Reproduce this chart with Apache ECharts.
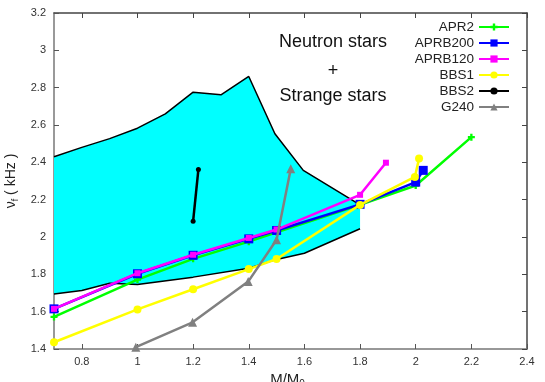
<!DOCTYPE html>
<html><head><meta charset="utf-8">
<script src="https://cdn.jsdelivr.net/npm/echarts@6/dist/echarts.min.js"></script>
<style>html,body{margin:0;padding:0;background:#fff}#c{width:545px;height:382px}</style>
</head><body><div id="c"></div>
<script>
const xTicks = [0.8, 1.0, 1.2, 1.4, 1.6, 1.8, 2.0, 2.2, 2.4];
const yTicks = [1.4, 1.6, 1.8, 2.0, 2.2, 2.4, 2.6, 2.8, 3.0, 3.2];

const apr2X = [0.7, 1.0, 1.2, 1.4, 1.5, 1.8, 2.0, 2.2];
const apr2Y = [1.572, 1.772, 1.883, 1.975, 2.025, 2.172, 2.276, 2.535];
const aprb200X = [0.7, 1.0, 1.2, 1.4, 1.5, 1.8, 2.0, 2.027];
const aprb200Y = [1.615, 1.803, 1.902, 1.99, 2.035, 2.175, 2.294, 2.357];
const aprb120X = [0.7, 1.0, 1.2, 1.4, 1.5, 1.8, 1.893];
const aprb120Y = [1.615, 1.806, 1.905, 1.995, 2.04, 2.226, 2.398];
const bbs1X = [0.7, 1.0, 1.2, 1.4, 1.5, 1.8, 1.997, 2.012];
const bbs1Y = [1.436, 1.612, 1.72, 1.828, 1.882, 2.172, 2.322, 2.42];
const bbs2X = [1.2, 1.219];
const bbs2Y = [2.085, 2.362];
const g240X = [0.994, 1.198, 1.398, 1.5, 1.551];
const g240Y = [1.41, 1.543, 1.761, 1.985, 2.366];

const upperX = [0.7, 0.8, 0.9, 1.0, 1.1, 1.2, 1.3, 1.4, 1.494, 1.596, 1.8];
const upperY = [2.43, 2.48, 2.527, 2.583, 2.66, 2.776, 2.762, 2.86, 2.553, 2.357, 2.172];
const lowerX = [0.7, 0.8, 0.9, 1.0, 1.2, 1.4, 1.5, 1.6, 1.8];
const lowerY = [1.695, 1.713, 1.752, 1.745, 1.785, 1.833, 1.88, 1.913, 2.044];

const names = ['APR2', 'APRB200', 'APRB120', 'BBS1', 'BBS2', 'G240'];
const annot = ['Neutron stars', '+', 'Strange stars'];

function pairs(xs, ys) { return xs.map((x, i) => [x, ys[i]]); }

const chart = echarts.init(document.getElementById('c'), null, {renderer: 'canvas'});
const font = '"Liberation Sans", Arial, sans-serif';

function lineSeries(name, xs, ys, color, symbol, size, z) {
  return {
    name: name, type: 'line', data: pairs(xs, ys), xAxisIndex: 0, yAxisIndex: 0,
    symbol: symbol, symbolSize: size, showSymbol: true,
    lineStyle: {color: color, width: 2.5},
    itemStyle: {color: color, borderWidth: 0},
    z: z, animation: false, clip: false
  };
}

const option = {
  animation: false,
  backgroundColor: '#fff',
  grid: {left: 54, right: 18, top: 13, bottom: 33, containLabel: false, outerBoundsMode: 'none'},
  xAxis: [{
    type: 'value', min: 0.7, max: 2.4, position: 'bottom',
    axisLine: {show: true, lineStyle: {color: '#777', width: 1.5}},
    axisTick: {show: true, inside: true, length: 5, customValues: xTicks, lineStyle: {color: '#555'}},
    axisLabel: {customValues: xTicks, color: '#333', fontSize: 11, fontFamily: font, margin: 7,
      formatter: v => String(+v.toFixed(1))},
    splitLine: {show: false},
    name: '{a|M/M}{b|0}', nameLocation: 'middle', nameGap: 14,
    nameTextStyle: {padding: [0, 6, 0, 0], rich: {
      a: {fontSize: 15, fontFamily: font, color: '#222'},
      b: {fontSize: 10, fontFamily: font, color: '#222', padding: [10, 0, 0, 0]}
    }}
  }, {
    type: 'value', min: 0.7, max: 2.4, position: 'top',
    axisLine: {show: true, onZero: false, lineStyle: {color: '#444', width: 1.5}},
    axisTick: {show: true, inside: true, length: 5, customValues: xTicks, lineStyle: {color: '#444'}},
    axisLabel: {show: false}, splitLine: {show: false}
  }],
  yAxis: [{
    type: 'value', min: 1.4, max: 3.2, interval: 0.2, position: 'left',
    axisLine: {show: true, lineStyle: {color: '#777', width: 1.5}},
    axisTick: {show: true, inside: true, length: 5, lineStyle: {color: '#555'}},
    axisLabel: {color: '#333', fontSize: 11, fontFamily: font, margin: 8,
      formatter: v => String(+v.toFixed(1))},
    splitLine: {show: false},
    name: '{a|ν}{b|f}{a| ( kHz )}', nameLocation: 'middle', nameGap: 34, nameRotate: 90,
    nameTextStyle: {rich: {
      a: {fontSize: 14, fontFamily: font, color: '#222'},
      b: {fontSize: 9, fontFamily: font, color: '#222', padding: [8, 0, 0, 0]}
    }}
  }, {
    type: 'value', min: 1.4, max: 3.2, interval: 0.2, position: 'right',
    axisLine: {show: true, onZero: false, lineStyle: {color: '#444', width: 1.5}},
    axisTick: {show: true, inside: true, length: 5, lineStyle: {color: '#444'}},
    axisLabel: {show: false}, splitLine: {show: false}
  }],
  legend: {
    data: names, orient: 'vertical', right: 30, top: 15, align: 'right',
    itemWidth: 30, itemHeight: 9, itemGap: 2,
    textStyle: {fontSize: 13.5, fontFamily: font, color: '#222', padding: [0, 0, 0, 0], lineHeight: 14},
    selectedMode: false
  },
  graphic: annot.map((t, i) => ({
    type: 'text', x: 333, y: [42, 71, 96][i],
    style: {text: t, fontSize: 18, fontFamily: font, fill: '#111', align: 'center', verticalAlign: 'middle'},
    z: 100
  })),
  series: [
    {
      type: 'custom', name: 'region', xAxisIndex: 0, yAxisIndex: 0, z: 1,
      data: [[0.7, 2.43]], silent: true,
      renderItem: function (params, api) {
        const pts = [];
        for (let i = 0; i < upperX.length; i++) pts.push(api.coord([upperX[i], upperY[i]]));
        for (let i = lowerX.length - 1; i >= 0; i--) pts.push(api.coord([lowerX[i], lowerY[i]]));
        return {type: 'polygon', shape: {points: pts}, style: {fill: '#00ffff', stroke: null}};
      }
    },
    {type: 'line', name: 'upper', data: pairs(upperX, upperY), symbol: 'none',
      lineStyle: {color: '#000', width: 1.5}, z: 2, silent: true},
    {type: 'line', name: 'lower', data: pairs(lowerX, lowerY), symbol: 'none',
      lineStyle: {color: '#000', width: 1.5}, z: 2, silent: true},
    lineSeries('APR2', apr2X, apr2Y, '#00ff00', 'path://M2,0H4V2H6V4H4V6H2V4H0V2H2Z', 7, 3),
    lineSeries('APRB200', aprb200X, aprb200Y, '#0000ff', 'rect', 9, 4),
    lineSeries('APRB120', aprb120X, aprb120Y, '#ff00ff', 'rect', 6, 5),
    lineSeries('BBS1', bbs1X, bbs1Y, '#ffff00', 'circle', 8, 6),
    lineSeries('BBS2', bbs2X, bbs2Y, '#000000', 'circle', 5, 7),
    lineSeries('G240', g240X, g240Y, '#808080', 'triangle', 9, 8)
  ]
};
chart.setOption(option);
</script></body></html>
